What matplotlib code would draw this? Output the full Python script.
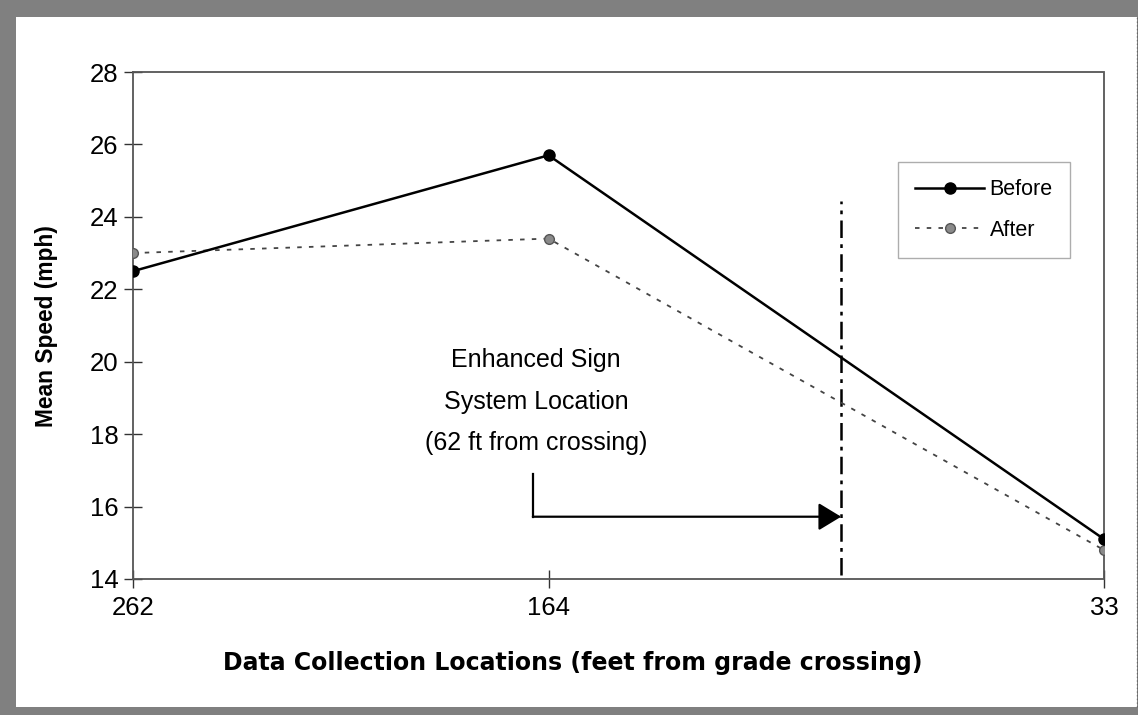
import matplotlib
matplotlib.use("Agg")
import matplotlib.pyplot as plt
from matplotlib.patches import Rectangle

plt.rcParams["font.family"] = ["Liberation Sans", "DejaVu Sans"]

# data
locations = [262, 164, 33]          # feet from grade crossing
before = [22.5, 25.7, 15.1]
after = [23.0, 23.4, 14.8]
y_ticks = [14, 16, 18, 20, 22, 24, 26, 28]
sign_x = 95                          # where the sign line is drawn on the axis
note = "Enhanced Sign\nSystem Location\n(62 ft from crossing)"

W, H = 1138, 715
fig = plt.figure(figsize=(W / 100, H / 100), dpi=100)
fig.patch.set_facecolor("#808080")
# white panel inside the grey frame
fig.patches.append(Rectangle((16 / W, 8 / H), 1 - 17 / W, 1 - 25 / H,
                             transform=fig.transFigure, facecolor="white",
                             edgecolor="none", zorder=-5))
fig.lines.append(plt.Line2D([1136.5 / W] * 2, [8 / H, 1 - 17 / H],
                            transform=fig.transFigure, color="#666", lw=1,
                            linestyle=":", zorder=-4))

ax = fig.add_axes([133 / W, 1 - 579 / H, 971 / W, 507 / H])
ax.set_facecolor("white")

ax.plot(locations, before, color="black", lw=1.8, marker="o", markersize=8,
        label="Before", zorder=4)
ax.plot(locations, after, color="#444444", lw=1.3, linestyle=(0, (2.5, 4)),
        marker="o", markersize=7, markerfacecolor="#8a8a8a",
        markeredgecolor="#555555", label="After", zorder=3)

# sign location line
ax.plot([sign_x, sign_x], [14.1, 24.45], color="black", lw=1.8,
        linestyle=(0, (7, 2.5, 1.5, 2.5)), zorder=2)

# note and arrow
ax.text(167, 18.9, note, ha="center", va="center", fontsize=18,
        linespacing=1.9)
ax.plot([167.7, 167.7], [16.9, 15.72], color="black", lw=1.6)
ax.annotate("", xy=(sign_x, 15.72), xytext=(167.7, 15.72),
            arrowprops=dict(arrowstyle="-|>,head_length=1.4,head_width=0.85",
                            color="black", lw=1.6, shrinkA=0, shrinkB=0))

ax.set_xlim(262, 33)
ax.set_ylim(14, 28)
ax.set_xticks(locations)
ax.set_xticklabels([str(v) for v in locations])
ax.set_yticks(y_ticks)
ax.tick_params(axis="both", direction="inout", length=13, width=1,
               labelsize=18.5, color="#333")
ax.tick_params(axis="x", pad=6)
ax.tick_params(axis="y", pad=4)

for s in ax.spines.values():
    s.set_linestyle((0, (1, 1)))
    s.set_color("#555555")
    s.set_linewidth(1.3)

fig.text(573 / W, 1 - 663 / H,
         "Data Collection Locations (feet from grade crossing)",
         ha="center", va="center", fontsize=17, fontweight="bold",
         family="DejaVu Sans")
fig.text(47 / W, 1 - 326 / H, "Mean Speed (mph)", rotation=90,
         ha="center", va="center", fontsize=16.4, fontweight="bold")

leg = ax.legend(loc="upper left", bbox_to_anchor=(0.788, 0.8225),
                borderaxespad=0, fontsize=15.5, fancybox=False, frameon=True,
                handlelength=3.2, handletextpad=0.25, labelspacing=0.9,
                borderpad=0.8)
leg.get_frame().set_edgecolor("#999999")
leg.get_frame().set_linewidth(1)

fig.savefig("out.png", dpi=100, facecolor=fig.get_facecolor())
